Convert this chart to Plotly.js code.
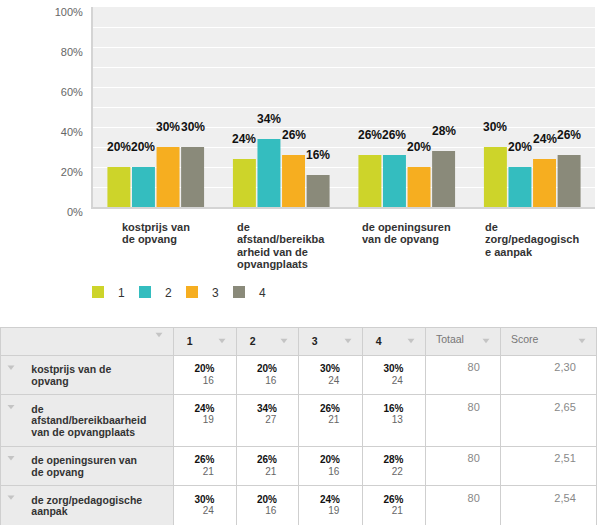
<!DOCTYPE html>
<html><head><meta charset="utf-8">
<script src="https://cdn.plot.ly/plotly-3.0.1.min.js"></script>
<style>html,body{margin:0;padding:0;background:#fff}#chart{width:597px;height:526px}</style>
</head><body><div id="chart"></div>
<script>
// ---- data ----
const categories = ["kostprijs van de opvang", "de afstand/bereikbaarheid van de opvangplaats", "de openingsuren van de opvang", "de zorg/pedagogische aanpak"];
const chartLabels = [["kostprijs van", "de opvang"], ["de", "afstand/bereikba", "arheid van de", "opvangplaats"], ["de openingsuren", "van de opvang"], ["de", "zorg/pedagogisch", "e aanpak"]];
const tableLabels = [["kostprijs van de", "opvang"], ["de", "afstand/bereikbaarheid", "van de opvangplaats"], ["de openingsuren van", "de opvang"], ["de zorg/pedagogische", "aanpak"]];
const seriesNames = ["1", "2", "3", "4"];
const pct1 = [20, 24, 26, 30];
const pct2 = [20, 34, 26, 20];
const pct3 = [30, 26, 20, 24];
const pct4 = [30, 16, 28, 26];
const cnt1 = [16, 19, 21, 24];
const cnt2 = [16, 27, 21, 16];
const cnt3 = [24, 21, 16, 19];
const cnt4 = [24, 13, 22, 21];
const totals = [80, 80, 80, 80];
const scores = ["2,30", "2,65", "2,51", "2,54"];
const headerLabels = ["", "1", "2", "3", "4", "Totaal", "Score"];
const yTickVals = [0, 20, 40, 60, 80, 100];
const yTickText = ["0%", "20%", "40%", "60%", "80%", "100%"];

// ---- styling ----
const colors = ["#cdd42a", "#34bdbf", "#f6ae20", "#8a8a7a"];
const FONT = "Liberation Sans, Arial, sans-serif";
const W = 597, H = 526;
const fx = p => p / W, fy = p => 1 - p / H;
const NB = n => "\u00a0".repeat(n);
const sz = (px, t) => "<span style='font-size:" + px + "px'>" + t + "</span>";
const BARGAP = 0.217;
const TABLE_TOP = 327;

const pcts = [pct1, pct2, pct3, pct4];
const cnts = [cnt1, cnt2, cnt3, cnt4];

const traces = pcts.map((vals, j) => ({
  type: "bar", x: categories, y: vals, name: seriesNames[j],
  marker: {color: colors[j]}, hoverinfo: "skip"
}));

// ---- table ----
const colW = [173, 63, 62, 64, 63, 75, 96];
const rowText = tableLabels.map(lines => lines.map(l => "<b>" + sz(10.5, NB(8) + l) + "</b>").join("<br>"));
const pctCols = pcts.map((vals, j) => vals.map((v, i) =>
  sz(10, "<b>" + v + "%</b>") + "<br>" + sz(10, NB(3) + "<span style='color:#666'>" + cnts[j][i] + "</span>")));
const headerText = headerLabels.map((h, k) => k === 0 ? "" : (k <= 4 ? NB(2) + "<b>" + h + "</b>" : NB(1) + h));
traces.push({
  type: "table",
  domain: {x: [0, fx(596)], y: [0, fy(TABLE_TOP)]},
  columnwidth: colW,
  header: {
    values: headerText,
    height: 27,
    align: "left",
    fill: {color: "#ebebeb"},
    line: {color: "#cfcfcf", width: 1},
    font: {family: FONT, size: 10.5, color: ["#222", "#222", "#222", "#222", "#222", "#777", "#777"]}
  },
  cells: {
    values: [rowText].concat(pctCols, [totals.map(t => t + NB(4)), scores.map(s => s + NB(4))]),
    height: 37,
    align: ["left", "center", "center", "center", "center", "right", "right"],
    fill: {color: ["#ebebeb", "#fff", "#fff", "#fff", "#fff", "#fff", "#fff"]},
    line: {color: "#cfcfcf", width: 1},
    font: {family: FONT, size: [9, 9, 9, 9, 9, 11, 11], color: ["#333", "#111", "#111", "#111", "#111", "#888", "#888"]}
  }
});

const annotations = [];
// value labels above bars
pcts.forEach((vals, j) => vals.forEach((v, i) => {
  annotations.push({
    xref: "x", yref: "y", x: i + (j - 1.5) * (1 - BARGAP) / 4, y: v,
    text: v + "%", showarrow: false, yanchor: "middle", yshift: 20,
    font: {family: FONT, size: 12, color: "#111", weight: "bold"}
  });
}));
// category labels (wrapped, left-aligned block centred on category)
chartLabels.forEach((lines, i) => annotations.push({
  xref: "x", yref: "paper", x: i, y: fy(219), yanchor: "top", align: "left",
  text: lines.map(l => sz(11, l)).join("<br>"), showarrow: false,
  font: {family: FONT, size: 9.5, color: "#333", weight: "bold"}
}));

// dropdown arrows (decoration)
const shapes = [];
function tri(cx, cy) {
  const w = 3.5, h = 2.2;
  return {type: "path", xref: "paper", yref: "paper", line: {width: 0}, fillcolor: "#c4c4c4",
    path: `M${fx(cx - w)},${fy(cy - h)} L${fx(cx + w)},${fy(cy - h)} L${fx(cx)},${fy(cy + h)} Z`};
}
let acc = 0;
colW.forEach((w, k) => { acc += w; shapes.push(tri(acc - 14, TABLE_TOP + (k === 0 ? 8 : 14))); });
const rowH = [39.4, 51.1, 39.4, 39.4];
let rt = TABLE_TOP + 27.7;
rowH.forEach(h => { shapes.push(tri(11, rt + 13)); rt += h; });

const layout = {
  width: W, height: H,
  margin: {l: 0, r: 0, t: 0, b: 0},
  paper_bgcolor: "#fff", plot_bgcolor: "#efefef",
  font: {family: FONT},
  barmode: "group", bargap: BARGAP, bargroupgap: 0.065,
  showlegend: true,
  legend: {orientation: "h", x: fx(78), xanchor: "left", y: fy(292), yanchor: "middle",
    entrywidth: 2, entrywidthmode: "pixels", font: {family: FONT, size: 12, color: "#333"},
    bgcolor: "rgba(0,0,0,0)", itemclick: false, itemdoubleclick: false},
  xaxis: {domain: [fx(93), fx(595)], type: "category", showticklabels: false, ticks: "",
    showline: true, linecolor: "#d4d4d4", linewidth: 2, showgrid: false, fixedrange: true},
  yaxis: {domain: [fy(207), fy(7)], range: [0, 100], tickmode: "array", tickvals: yTickVals, ticktext: yTickText,
    showgrid: true, gridcolor: "#ffffff", gridwidth: 1,
    minor: {dtick: 10, showgrid: true, gridcolor: "#ffffff", gridwidth: 1},
    showline: true, linecolor: "#d4d4d4", linewidth: 2, zeroline: false, ticks: "",
    tickfont: {family: FONT, size: 11, color: "#666"}, ticklabelstandoff: 6, ticklabelshift: 5, fixedrange: true},
  annotations: annotations,
  shapes: shapes
};

Plotly.newPlot("chart", traces, layout, {displayModeBar: false, staticPlot: true});
</script>
</body></html>
